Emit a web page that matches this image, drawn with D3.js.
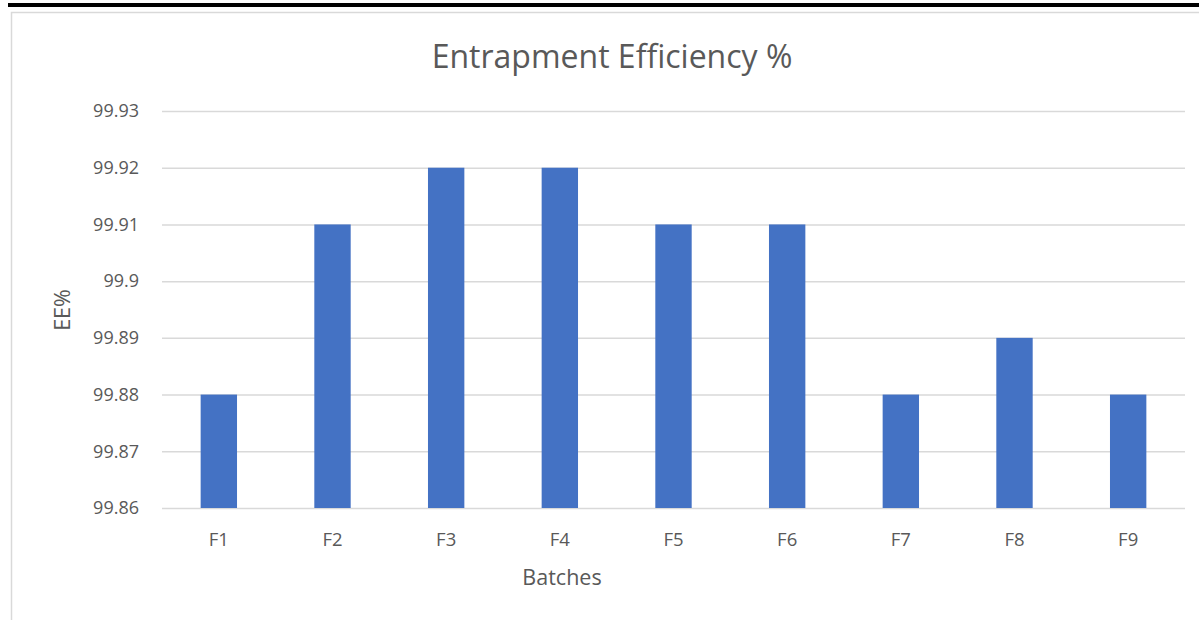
<!DOCTYPE html>
<html>
<head>
	<meta charset="UTF-8">
	<title>Entrapment Efficiency %</title>
	<style>
		body { margin: 0; background: #fff; }
		text { font-family: "Open Sans", sans-serif; fill: #595959; }
		.grid line { stroke: #d9d9d9; stroke-width: 1.5; }
		.grid .domain { display: none; }
	</style>
</head>
<body>
<script src="https://d3js.org/d3.v7.min.js"></script>
<script>
'use strict';

var batches = ["F1", "F2", "F3", "F4", "F5", "F6", "F7", "F8", "F9"];
var ee = [99.88, 99.91, 99.92, 99.92, 99.91, 99.91, 99.88, 99.89, 99.88];
var yTicks = [99.86, 99.87, 99.88, 99.89, 99.9, 99.91, 99.92, 99.93];

var W = 1199, H = 620;
var svg = d3.select("body").append("svg")
	.attr("width", W)
	.attr("height", H);

// black rule on top and the light chart frame
svg.append("rect").attr("x", 8).attr("y", 3).attr("width", W - 8).attr("height", 4).attr("fill", "#000");
svg.append("rect").attr("x", 11.5).attr("y", 12.5).attr("width", W + 10).attr("height", H)
	.attr("fill", "none").attr("stroke", "#d9d9d9").attr("stroke-width", 1.5);

var plot = {left: 162, right: 1185, top: 111, bottom: 508};

var x = d3.scaleBand().domain(batches).range([plot.left, plot.right]).paddingInner(0.68).paddingOuter(0.34);
var y = d3.scaleLinear().domain([99.86, 99.93]).range([plot.bottom, plot.top]);

svg.append("g")
	.attr("class", "grid")
	.attr("transform", "translate(" + plot.left + ",0)")
	.call(d3.axisLeft(y).tickValues(yTicks).tickSize(-(plot.right - plot.left)).tickFormat(""));

svg.selectAll(".bar")
	.data(ee)
	.enter().append("rect")
		.attr("class", "bar")
		.attr("x", function(d, i){ return x(batches[i]); })
		.attr("y", function(d){ return y(d); })
		.attr("width", x.bandwidth())
		.attr("height", function(d){ return plot.bottom - y(d); })
		.attr("fill", "#4472c4");

// y tick labels
svg.selectAll(".ylab")
	.data(yTicks)
	.enter().append("text")
		.attr("x", 139)
		.attr("y", function(d){ return y(d); })
		.attr("dy", "0.35em")
		.attr("text-anchor", "end")
		.attr("font-size", 18)
		.text(function(d){ return String(+d.toFixed(2)); });

// x tick labels
svg.selectAll(".xlab")
	.data(batches)
	.enter().append("text")
		.attr("x", function(d){ return x(d) + x.bandwidth() / 2; })
		.attr("y", 540)
		.attr("dy", "0.35em")
		.attr("text-anchor", "middle")
		.attr("font-size", 18.5)
		.text(function(d){ return d; });

svg.append("text")
	.attr("x", 612).attr("y", 57).attr("dy", "0.35em")
	.attr("text-anchor", "middle")
	.attr("font-size", 32)
	.text("Entrapment Efficiency %");

svg.append("text")
	.attr("x", 562).attr("y", 577).attr("dy", "0.35em")
	.attr("text-anchor", "middle")
	.attr("font-size", 21.5)
	.text("Batches");

svg.append("text")
	.attr("transform", "translate(62,310) rotate(-90)")
	.attr("dy", "0.35em")
	.attr("text-anchor", "middle")
	.attr("font-size", 21.5)
	.text("EE%");
</script>
</body>
</html>
